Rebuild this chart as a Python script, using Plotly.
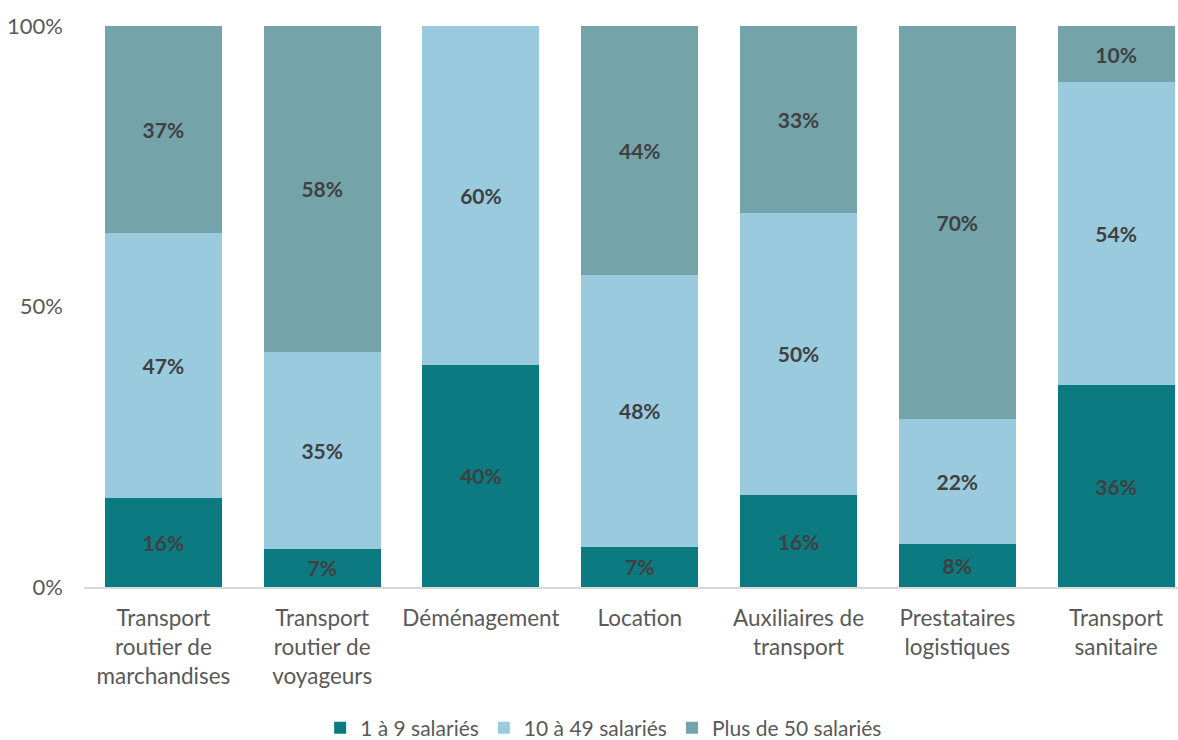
import plotly.graph_objects as go

categories = ["Transport<br>routier de<br>marchandises", "Transport<br>routier de<br>voyageurs",
              "Déménagement", "Location", "Auxiliaires de<br>transport",
              "Prestataires<br>logistiques", "Transport<br>sanitaire"]
small = [15.9, 6.8, 39.6, 7.2, 16.4, 7.6, 36.0]
medium = [47.2, 35.1, 60.4, 48.4, 50.3, 22.4, 54.0]
large = [36.9, 58.1, None, 44.4, 33.3, 70.0, 10.0]
series_names = ["1 à 9 salariés", "10 à 49 salariés", "Plus de 50 salariés"]
colors = ["#0B7B81", "#99CADD", "#74A4AA"]
y_ticks = [0, 50, 100]
y_ticklabels = ["0%", "50%", "100%"]

fig = go.Figure()
for name, vals, col in zip(series_names, [small, medium, large], colors):
    fig.add_trace(go.Bar(
        x=categories, y=vals, name=name, marker_color=col,
        marker_line_width=0,
        texttemplate="%{y:.0f}%", textposition="inside", insidetextanchor="middle",
        textangle=0, constraintext="none",
        textfont=dict(family="Lato", size=21, color="#404040", weight="bold"),
        hoverinfo="skip",
    ))

fig.update_layout(
    barmode="stack", bargap=0.263,
    width=1178, height=740,
    margin=dict(l=84, r=0, t=26, b=153),
    plot_bgcolor="white", paper_bgcolor="white",
    font=dict(family="Lato", color="#595959", size=22),
    legend=dict(orientation="h", x=0.475, xanchor="center",
                yref="container", y=0.016, yanchor="middle",
                font=dict(size=21, color="#595959"), traceorder="normal"),
    xaxis=dict(range=[-0.5, 6.39], showline=True, linecolor="#D9D9D9", linewidth=1.5,
               ticks="", tickfont=dict(size=22.5, color="#595959"), showgrid=False,
               automargin=False, ticklabelstandoff=10),
    yaxis=dict(range=[0, 100], tickvals=y_ticks, ticktext=y_ticklabels, showgrid=False,
               zeroline=False, showline=False, ticks="", ticklabelstandoff=20,
               tickfont=dict(size=22, color="#595959"), automargin=False),
)

fig.write_html("out.html", config={"displayModeBar": False},
               post_script="document.body.style.margin='0';document.body.style.overflow='hidden';")
